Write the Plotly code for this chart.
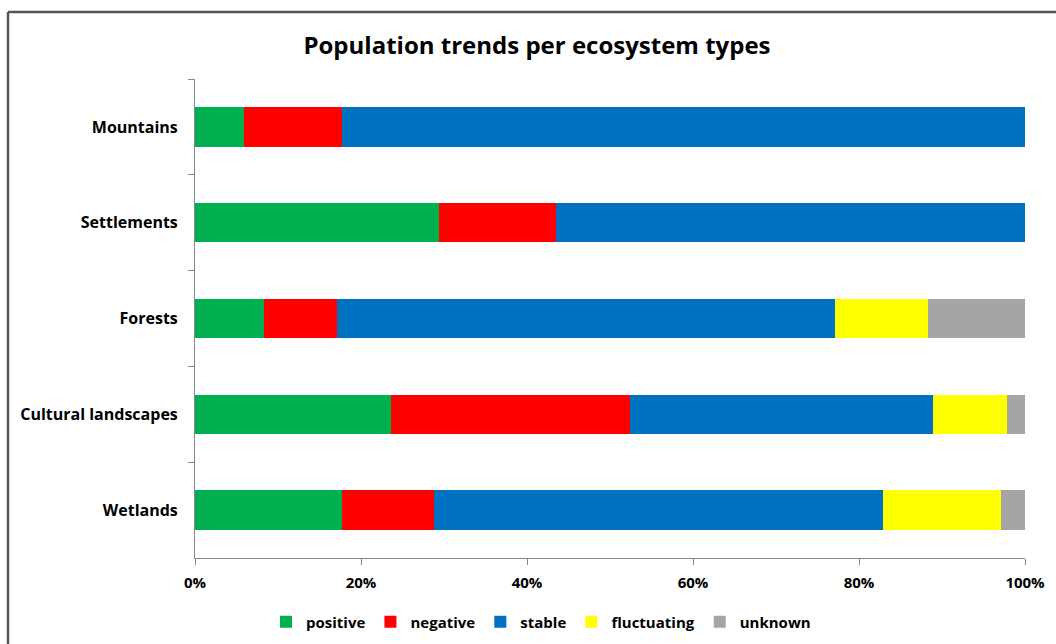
import plotly.graph_objects as go

# Share of species per population trend, in percent of each ecosystem type
ecosystems = ["Mountains", "Settlements", "Forests", "Cultural landscapes", "Wetlands"]
positive = [5.9, 29.4, 8.3, 23.6, 17.7]
negative = [11.8, 14.1, 8.8, 28.8, 11.1]
stable = [82.3, 56.5, 60.0, 36.5, 54.1]
fluctuating = [0.0, 0.0, 11.2, 8.9, 14.2]
unknown = [0.0, 0.0, 11.7, 2.2, 2.9]

x_ticks = [0, 20, 40, 60, 80, 100]

series = [
    ("positive", positive, "#00B050"),
    ("negative", negative, "#FF0000"),
    ("stable", stable, "#0070C0"),
    ("fluctuating", fluctuating, "#FFFF00"),
    ("unknown", unknown, "#A5A5A5"),
]

FONT = "Open Sans"
W, H = 1056, 644
ML, MR, MT, MB = 195, 31, 79, 86
PW, PH = W - ML - MR, H - MT - MB

fig = go.Figure()
for name, vals, color in series:
    fig.add_trace(go.Bar(
        y=ecosystems, x=vals, name=name, orientation="h",
        marker=dict(color=color, line=dict(width=0)),
        hovertemplate="%{y}: %{x:.1f}%<extra>" + name + "</extra>",
    ))


# pixel positions converted to paper units
def px_x(p):
    return (p - ML) / PW


def px_y(p):
    return (H - MB - p) / PH


# outer chart frame: left and top edges (right/bottom run off the page)
frame = dict(color="#555555", width=2.5)
fig.add_shape(type="line", xref="paper", yref="paper",
              x0=px_x(8), x1=px_x(8), y0=px_y(700), y1=px_y(12), line=frame)
fig.add_shape(type="line", xref="paper", yref="paper",
              x0=px_x(8), x1=px_x(1100), y0=px_y(12), y1=px_y(12), line=frame)

fig.update_layout(
    width=W, height=H,
    barmode="stack", bargap=0.59,
    plot_bgcolor="white", paper_bgcolor="white",
    margin=dict(l=ML, r=MR, t=MT, b=MB, pad=0, autoexpand=False),
    font=dict(family=FONT, color="#000000"),
    title=dict(text="Population trends per ecosystem types",
               font=dict(family=FONT, size=24, weight="bold", color="#000000"),
               x=537 / W, xanchor="center",
               y=1 - 46 / H, yanchor="middle"),
    showlegend=True,
    legend=dict(orientation="h", x=px_x(541), xanchor="center",
                y=px_y(622), yanchor="middle",
                font=dict(family=FONT, size=15, weight="bold", color="#000000"),
                itemwidth=30, traceorder="normal",
                bgcolor="rgba(0,0,0,0)"),
    xaxis=dict(range=[0, 100], tickvals=x_ticks,
               ticktext=[f"{v}%" for v in x_ticks],
               showgrid=False, zeroline=False,
               showline=True, linecolor="#868686", linewidth=1,
               ticks="outside", ticklen=6, tickcolor="#868686",
               tickfont=dict(family=FONT, size=15, weight="bold", color="#000000"),
               ticklabelstandoff=5),
    yaxis=dict(autorange="reversed", categoryorder="array",
               categoryarray=ecosystems,
               showgrid=False, zeroline=False,
               showline=True, linecolor="#868686", linewidth=1,
               ticks="outside", ticklen=6, tickcolor="#868686",
               tickson="boundaries",
               tickfont=dict(family=FONT, size=16, weight="bold", color="#000000"),
               ticklabelstandoff=13),
)

fig.write_html("out.html")
